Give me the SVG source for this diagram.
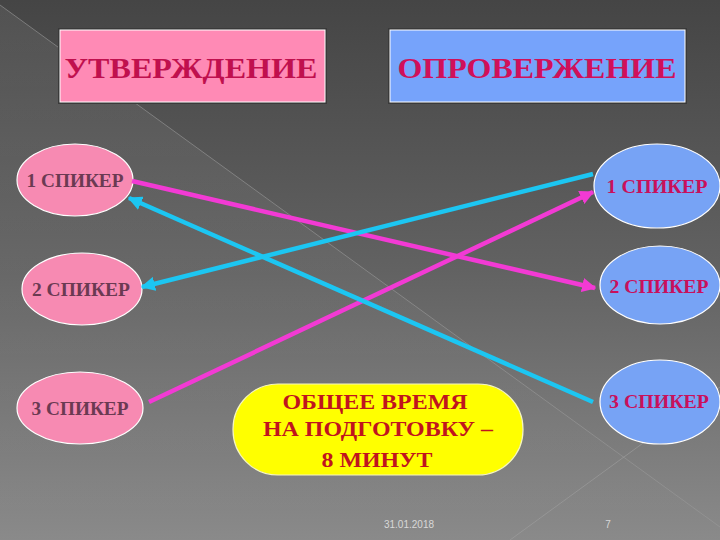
<svg xmlns="http://www.w3.org/2000/svg" width="720" height="540" viewBox="0 0 720 540">
<defs>
<linearGradient id="bg" x1="0" y1="0" x2="0" y2="1">
<stop offset="0" stop-color="#454545"/>
<stop offset="0.5" stop-color="#626262"/>
<stop offset="1" stop-color="#8a8a8a"/>
</linearGradient>
<linearGradient id="bg2" x1="0" y1="0" x2="0" y2="1">
<stop offset="0" stop-color="#ffffff" stop-opacity="0.07"/>
<stop offset="1" stop-color="#ffffff" stop-opacity="0.0"/>
</linearGradient>
<marker id="ahP" viewBox="0 0 10 10" refX="9" refY="5" markerWidth="3.2" markerHeight="3.2" orient="auto" markerUnits="strokeWidth">
<path d="M0,0 L10,5 L0,10 z" fill="#f23ad4"/>
</marker>
<marker id="ahC" viewBox="0 0 10 10" refX="9" refY="5" markerWidth="3.2" markerHeight="3.2" orient="auto" markerUnits="strokeWidth">
<path d="M0,0 L10,5 L0,10 z" fill="#1cc6f2"/>
</marker>
</defs>
<style>
.hdr{font-family:"Liberation Serif","Times New Roman",serif;font-weight:bold;font-size:30px;text-anchor:middle}
.sp{font-family:"Liberation Serif","Times New Roman",serif;font-weight:bold;font-size:18px;text-anchor:middle}
.lt{fill:#6b3a52}
.rt{fill:#c8105c}
.pinkE{fill:#f78ab2;stroke:#ffffff;stroke-width:1.2}
.blueE{fill:#77a3f5;stroke:#ffffff;stroke-width:1.2}
.pl{stroke:#f23ad4;stroke-width:4.5;fill:none}
.cl{stroke:#1cc6f2;stroke-width:4.5;fill:none}
.yt{font-family:"Liberation Serif","Times New Roman",serif;font-weight:bold;font-size:21px;fill:#c0141e;text-anchor:middle}
.ft{font-family:"Liberation Sans",Arial,sans-serif;font-size:10px;fill:#d8d8d8;text-anchor:middle}
</style>
<rect width="720" height="540" fill="url(#bg)"/>
<polygon points="0,5 720,527 720,540 0,540" fill="url(#bg2)"/>
<line x1="0" y1="5" x2="720" y2="527" stroke="#9a9a9a" stroke-width="1" opacity="0.6"/>
<line x1="510" y1="540" x2="720" y2="387" stroke="#a0a0a0" stroke-width="1" opacity="0.6"/>

<g id="affirm">
<rect x="58" y="28" width="269" height="76" fill="#3a3a3a"/>
<rect x="60" y="30" width="265" height="72" fill="#ff8ab5" stroke="#ffffff" stroke-width="1"/>
<text class="hdr" x="191" y="78" fill="#c0104e" textLength="253" lengthAdjust="spacingAndGlyphs">УТВЕРЖДЕНИЕ</text>
</g>
<g id="refute">
<rect x="388" y="28" width="299" height="76" fill="#3a3a3a"/>
<rect x="390" y="30" width="295" height="72" fill="#76a3fb" stroke="#ffffff" stroke-width="1"/>
<text class="hdr" x="537" y="78" fill="#d0105a" textLength="279" lengthAdjust="spacingAndGlyphs">ОПРОВЕРЖЕНИЕ</text>
</g>

<g id="L1"><ellipse class="pinkE" cx="75" cy="180" rx="58" ry="36"/><text class="sp lt" x="75" y="187" textLength="97" lengthAdjust="spacingAndGlyphs">1 СПИКЕР</text></g>
<g id="L2"><ellipse class="pinkE" cx="82" cy="289" rx="60" ry="36"/><text class="sp lt" x="81" y="296" textLength="98" lengthAdjust="spacingAndGlyphs">2 СПИКЕР</text></g>
<g id="L3"><ellipse class="pinkE" cx="80" cy="408" rx="63" ry="36"/><text class="sp lt" x="80" y="415" textLength="97" lengthAdjust="spacingAndGlyphs">3 СПИКЕР</text></g>

<g id="R1"><ellipse class="blueE" cx="657" cy="186" rx="63" ry="42"/><text class="sp rt" x="657" y="193" textLength="101" lengthAdjust="spacingAndGlyphs">1 СПИКЕР</text></g>
<g id="R2"><ellipse class="blueE" cx="660" cy="285" rx="60" ry="39"/><text class="sp rt" x="659" y="293" textLength="99" lengthAdjust="spacingAndGlyphs">2 СПИКЕР</text></g>
<g id="R3"><ellipse class="blueE" cx="660" cy="402" rx="60" ry="42"/><text class="sp rt" x="659" y="408" textLength="100" lengthAdjust="spacingAndGlyphs">3 СПИКЕР</text></g>

<g id="connectors">
<line class="pl" x1="132" y1="181" x2="595" y2="288" marker-end="url(#ahP)"/>
<line class="cl" x1="593" y1="174" x2="142" y2="287" marker-end="url(#ahC)"/>
<line class="pl" x1="149" y1="402" x2="593" y2="192" marker-end="url(#ahP)"/>
<line class="cl" x1="593" y1="402" x2="129" y2="198" marker-end="url(#ahC)"/>
</g>

<g id="time">
<rect x="233" y="384" width="290" height="91" rx="45" ry="45" fill="#ffff00" stroke="#f5f5c0" stroke-width="1.2"/>
<text class="yt" x="375" y="409" textLength="185" lengthAdjust="spacingAndGlyphs">ОБЩЕЕ ВРЕМЯ</text>
<text class="yt" x="378" y="436" textLength="230" lengthAdjust="spacingAndGlyphs">НА ПОДГОТОВКУ –</text>
<text class="yt" x="377" y="467" textLength="111" lengthAdjust="spacingAndGlyphs">8 МИНУТ</text>
</g>

<text class="ft" x="409" y="528">31.01.2018</text>
<text class="ft" x="608" y="528">7</text>
</svg>
